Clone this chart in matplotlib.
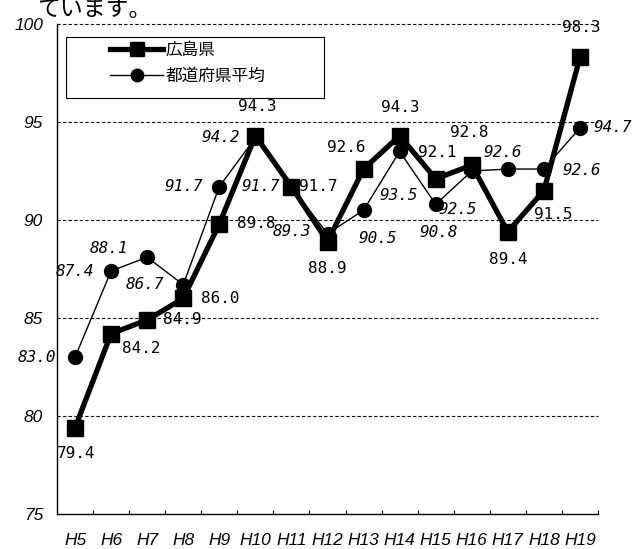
import matplotlib.pyplot as plt
from matplotlib.patches import Rectangle
from matplotlib.lines import Line2D

# 年度と充足率（%）
years = ["H5", "H6", "H7", "H8", "H9", "H10", "H11", "H12",
         "H13", "H14", "H15", "H16", "H17", "H18", "H19"]
hiroshima = [79.4, 84.2, 84.9, 86.0, 89.8, 94.3, 91.7, 88.9,
             92.6, 94.3, 92.1, 92.8, 89.4, 91.5, 98.3]
heikin = [83.0, 87.4, 88.1, 86.7, 91.7, 94.2, 91.7, 89.3,
          90.5, 93.5, 90.8, 92.5, 92.6, 92.6, 94.7]

# ラベルのずらし量（ピクセル、x右・y下）
off_hiro = [(1, 26), (30, 15), (35, 0), (37, 0), (37, 0), (2, -29), (27, 0),
            (0, 27), (-17, -22), (1, -28), (2, -26), (-3, -33), (0, 28),
            (9, 24), (1, -30)]
off_avg = [(-38, 0), (-36, 1), (-38, -9), (-38, 0), (-36, 0), (-35, 0),
           (-31, 0), (-36, -2), (14, 28), (-1, 44), (3, 28), (-14, 39),
           (-5, -17), (38, 1), (33, 0)]

W, H = 634, 549
fig = plt.figure(figsize=(W / 100, H / 100), dpi=100)
ax = fig.add_axes([57 / W, 1 - 514 / H, 541 / W, 490 / H])

x = list(range(len(years)))

ax.plot(x, heikin, color='black', lw=1.0, marker='o', ms=10,
        mfc='black', mec='black', zorder=3, clip_on=False)
ax.plot(x, hiroshima, color='black', lw=3.8, marker='s', ms=11.5,
        mfc='black', mec='black', zorder=4, clip_on=False)

mono = 'DejaVu Sans Mono'
for i, v in enumerate(hiroshima):
    dx, dy = off_hiro[i]
    ax.annotate(f"{v:.1f}", (i, v), xytext=(dx, -dy), textcoords='offset pixels',
                ha='center', va='center', fontsize=11.5, family=mono, zorder=5,
                annotation_clip=False)
for i, v in enumerate(heikin):
    dx, dy = off_avg[i]
    ax.annotate(f"{v:.1f}", (i, v), xytext=(dx, -dy), textcoords='offset pixels',
                ha='center', va='center', fontsize=11.5, family=mono,
                style='italic', zorder=5, annotation_clip=False)

# 破線の目盛線
for y in [80, 85, 90, 95, 100]:
    ax.axhline(y, color='black', lw=0.8, ls=(0, (3, 2)), zorder=1, clip_on=False)

ax.set_xlim(-0.5, 14.5)
ax.set_ylim(75, 100)
ax.set_yticks([75, 80, 85, 90, 95, 100])
ax.set_yticklabels(['75', '80', '85', '90', '95', '100'],
                   family='Liberation Sans', style='italic', fontsize=12.5)
ax.tick_params(axis='y', length=0, pad=10)

ax.set_xticks(x)
ax.set_xticklabels(years, family='Liberation Sans', style='italic', fontsize=12.5)
ax.set_xticks([i + 0.5 for i in x], minor=True)
ax.tick_params(axis='x', which='major', length=0, pad=14)
ax.tick_params(axis='x', which='minor', direction='in', length=3, width=0.8)

for s in ['top', 'right']:
    ax.spines[s].set_visible(False)
for s in ['left', 'bottom']:
    ax.spines[s].set_linewidth(1.0)

# 凡例
fig.patches.append(Rectangle((66 / W, 1 - 98 / H), 258 / W, 61 / H,
                             transform=fig.transFigure, fill=False,
                             edgecolor='black', lw=0.8, zorder=6))
handles = [
    Line2D([], [], color='black', lw=3.8, marker='s', ms=10),
    Line2D([], [], color='black', lw=1.0, marker='o', ms=9),
]
fig.legend(handles, ['広島県', '都道府県平均'], loc='upper left',
           bbox_to_anchor=(110 / W, 1 - 42 / H), frameon=False,
           prop={'family': 'Noto Sans CJK JP', 'size': 12},
           handlelength=3.2, handletextpad=0.15, labelspacing=0.55,
           borderpad=0, borderaxespad=0)

fig.text(37 / W, 1 - 10 / H, 'ています。', family='Noto Sans CJK JP',
         fontsize=16.5, va='center', ha='left')

fig.savefig('out.png', dpi=100)
